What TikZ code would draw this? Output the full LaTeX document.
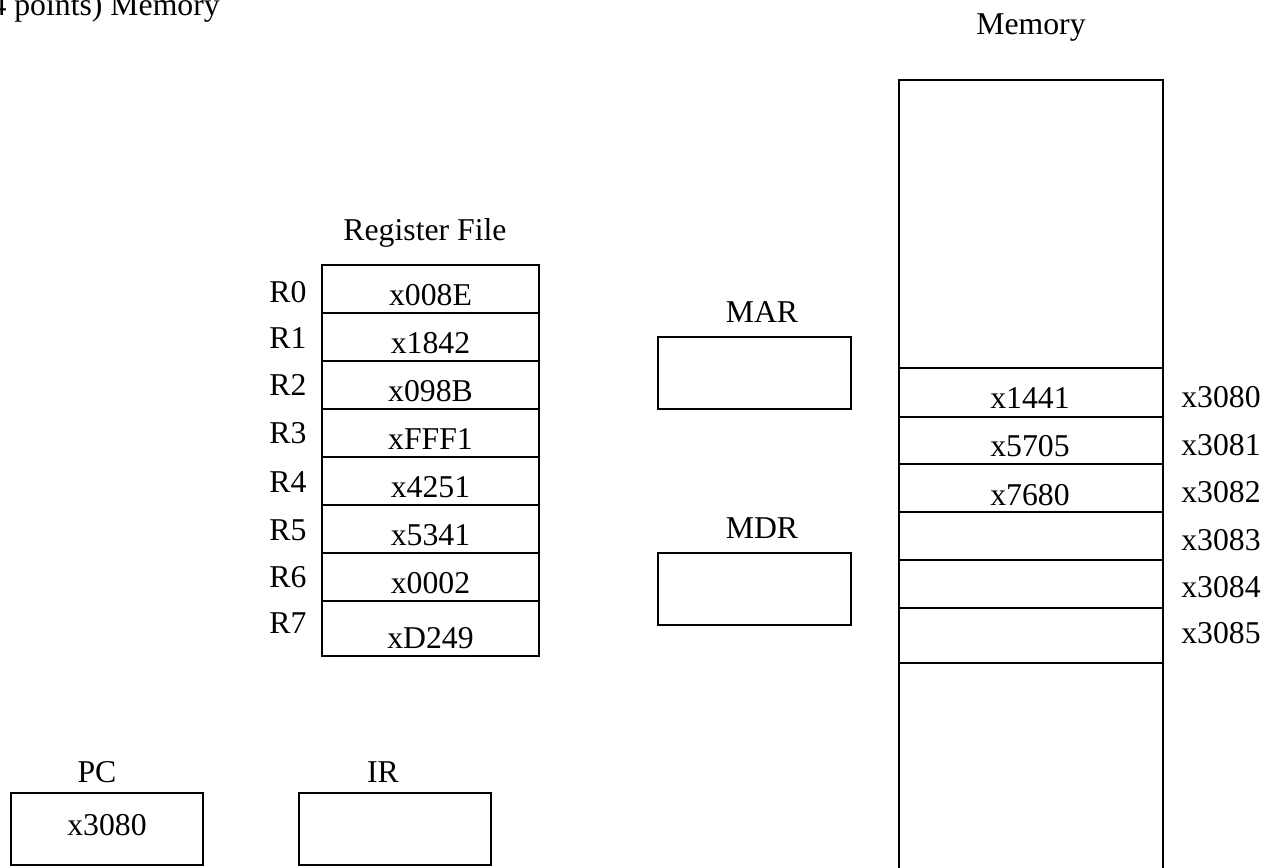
\documentclass[tikz,border=0pt]{standalone}
\usepackage{fontspec}
\setmainfont{Liberation Serif}
\begin{document}
\begin{tikzpicture}[x=0.75pt,y=-0.75pt,
  box/.style={draw=black,line width=1.5pt},
  cell/.style={draw=black,line width=1.4pt},
  txt/.style={anchor=base,inner sep=0pt,font=\fontsize{23.8}{28}\selectfont}]
\useasboundingbox (0,0) rectangle (1280,867);
% title (cut off at left)
\node[txt,anchor=base east] (title) at (220,16) {(4 points) Memory};
% Register file
\node[txt] (rflabel) at (425,240) {Register File};
\foreach \i/\t/\b/\v/\rb in {0/265/313/x008E/302,1/313/361/x1842/348,2/361/409/x098B/395,3/409/457/xFFF1/443,4/457/505/x4251/492,5/505/553/x5341/540,6/553/601/x0002/587,7/601/656/xD249/633}{
  \draw[cell] (322,\t) rectangle (539,\b);
  \node[txt] (rv\i) at (430.5,\b-8) {\v};
  \node[txt] (rl\i) at (288,\rb) {R\i};
}
% MAR / MDR
\node[txt] (marlabel) at (762,322) {MAR};
\draw[box] (658,337) rectangle (851,409);
\node[txt] (mdrlabel) at (762,538) {MDR};
\draw[box] (658,553) rectangle (851,625);
% Memory
\node[txt] (memlabel) at (1031,35) {Memory};
\draw[box] (899,880) -- (899,80) -- (1163,80) -- (1163,880);
\foreach \y in {368,417,464,512,560,608,663}{
  \draw[cell] (899,\y) -- (1163,\y);
}
\node[txt] (m0) at (1030,408) {x1441};
\node[txt] (m1) at (1030,456) {x5705};
\node[txt] (m2) at (1030,505) {x7680};
\foreach \a/\yb in {0/407,1/455,2/502,3/550,4/597,5/643}{
  \node[txt] (ad\a) at (1221,\yb) {x308\a};
}
% PC / IR
\node[txt] (pclabel) at (97,782) {PC};
\draw[box] (11,793) rectangle (203,865);
\node[txt] (pcval) at (107,835) {x3080};
\node[txt] (irlabel) at (383,782) {IR};
\draw[box] (299,793) rectangle (491,865);
\end{tikzpicture}
\end{document}
